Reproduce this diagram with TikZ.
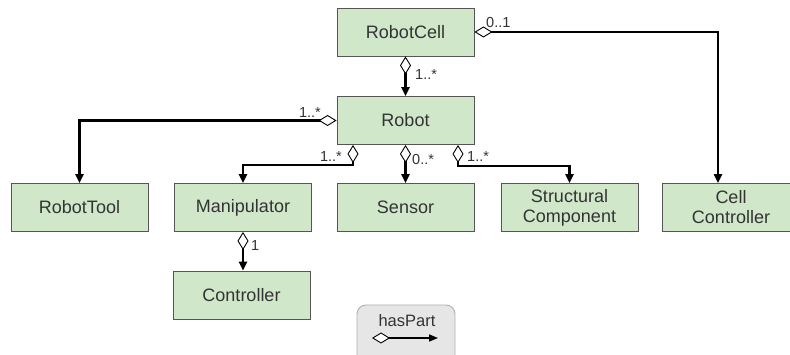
\documentclass[tikz,border=0pt]{standalone}
\usepackage{fontspec}
\setmainfont{Liberation Sans}
\usetikzlibrary{arrows.meta}
\definecolor{boxfill}{HTML}{D0E7CA}
\definecolor{boxline}{HTML}{555555}
\definecolor{legfill}{HTML}{E6E6E6}
\definecolor{legline}{HTML}{B0B0B0}
\definecolor{txt}{HTML}{333333}
\tikzset{
  cls/.style={draw=boxline, line width=0.9pt, fill=boxfill, minimum width=137pt,
    minimum height=48pt, inner sep=0pt, align=center, text=txt,
    font=\fontsize{18}{20}\selectfont},
  haspart/.style={line width=2.2pt,
    {Diamond[fill=white, length=18pt, width=11pt, line width=0.9pt]}-{Triangle[length=9pt, width=8pt]}},
  mult/.style={text=txt, font=\fontsize{14.5}{16}\selectfont, inner sep=1pt},
}
\begin{document}
\begin{tikzpicture}[x=1pt, y=-1pt]
\useasboundingbox (0,0) rectangle (790,355);
% classes
\node[cls] (cell)   at (405.5, 32)    {RobotCell};
\node[cls] (robot)  at (405.5, 120.5) {Robot};
\node[cls] (tool)   at (79.5, 207.5)  {RobotTool};
\node[cls] (manip)  at (243, 207.5)   {Manipulator};
\node[cls] (sensor) at (405.5, 207.5) {Sensor};
\node[cls] (struct) at (569.5, 207.5) {Structural\\Component};
\node[cls, minimum width=138pt] (cctrl) at (731, 207.5) {Cell\\Controller};
\node[cls] (ctrl)   at (241.5, 295)   {Controller};
% aggregation links
\draw[haspart] (cell.east) -| (718,0 |- cctrl.north);
\draw[haspart] (cell.south) -- (robot.north);
\draw[haspart] (robot.west) -| (tool.north);
\coordinate (rm) at (353,0 |- robot.south);
\draw[haspart] (rm) |- (243,165) -- (manip.north);
\draw[haspart] (robot.south) -- (sensor.north);
\coordinate (rs) at (458,0 |- robot.south);
\draw[haspart] (rs) |- (569.5,166) -- (struct.north);
\draw[haspart] (243,0 |- manip.south) -- (243,0 |- ctrl.north);
% multiplicities
\node[mult, anchor=south west] at (485,29) {0..1};
\node[mult, anchor=west] at (414,75) {1..*};
\node[mult, anchor=south east] at (322,119) {1..*};
\node[mult, anchor=south east] at (343,163) {1..*};
\node[mult, anchor=west] at (411,160) {0..*};
\node[mult, anchor=west] at (466,157) {1..*};
\node[mult, anchor=west] at (250,246) {1};
% legend
\node[draw=legline, line width=0.9pt, fill=legfill, rounded corners=9pt,
  minimum width=98pt, minimum height=66pt] (leg) at (406,338) {};
\node[text=txt, font=\fontsize{16.5}{18}\selectfont] (legtext) at (407,321) {hasPart};
\coordinate (la) at (372,338);
\coordinate (lb) at (438,338);
\draw[line width=1.6pt,
  {Diamond[fill=white, length=18pt, width=11pt, line width=0.9pt]}-{Triangle[length=9pt, width=7pt]}]
  (la) -- (lb);
\end{tikzpicture}
\end{document}
